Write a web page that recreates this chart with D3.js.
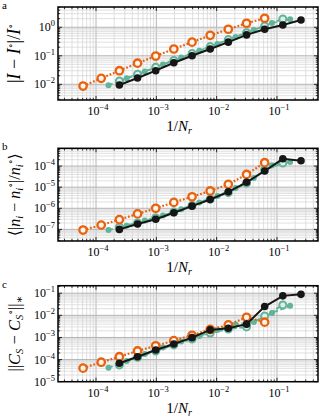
<!DOCTYPE html>
<html>
<head>
<meta charset="utf-8">
<script src="https://cdn.jsdelivr.net/npm/d3@7"></script>
<style>
body { margin: 0; background: #fff; }
svg { display: block; }
</style>
</head>
<body>
<svg id="fig"></svg>
<script>
// 1/N_r positions
const xOrange = [6.10e-5, 1.22e-4, 2.44e-4, 4.88e-4, 9.77e-4, 1.95e-3, 3.91e-3, 7.81e-3, 1.56e-2, 3.13e-2, 6.25e-2];
const xBlack  = [2.44e-4, 4.88e-4, 9.77e-4, 1.95e-3, 3.91e-3, 7.81e-3, 1.56e-2, 3.13e-2, 6.25e-2, 0.125, 0.25];
const xTealA  = [2.44e-4, 4.88e-4, 9.77e-4, 1.95e-3, 3.91e-3, 7.81e-3, 1.56e-2, 3.13e-2, 6.25e-2, 0.125];
const xTealB  = [1.61e-4, 3.22e-4, 6.45e-4, 1.29e-3, 2.58e-3, 5.16e-3, 1.03e-2, 2.06e-2, 4.13e-2, 8.25e-2, 0.165];

// panel a : |I - I°|/I°
const aOrange = [0.0087, 0.0162, 0.030, 0.055, 0.098, 0.173, 0.30, 0.52, 0.85, 1.38, 2.07];
const aBlack  = [0.0095, 0.0166, 0.030, 0.057, 0.10, 0.173, 0.30, 0.54, 0.85, 1.2, 1.8];
const aTealA  = [0.0131, 0.0225, 0.0396, 0.069, 0.12, 0.21, 0.37, 0.64, 1.11, 1.95];
const aTealB  = [0.0093, 0.0162, 0.028, 0.049, 0.087, 0.15, 0.26, 0.46, 0.80, 1.4, 1.9];

// panel b : <|n_i - n_i°|/n_i°>
const bOrange = [9.3e-8, 1.6e-7, 2.9e-7, 5.4e-7, 1.0e-6, 1.9e-6, 3.5e-6, 6.6e-6, 1.36e-5, 4.0e-5, 1.44e-4];
const bBlack  = [1.0e-7, 1.8e-7, 3.0e-7, 6.1e-7, 1.26e-6, 2.6e-6, 6.0e-6, 1.7e-5, 5.8e-5, 2.2e-4, 1.78e-4];
const bTealA  = [1.29e-7, 2.0e-7, 3.5e-7, 6.6e-7, 1.35e-6, 2.7e-6, 5.5e-6, 1.55e-5, 6.5e-5, 1.39e-4];
const bTealB  = [9.3e-8, 1.5e-7, 2.6e-7, 4.5e-7, 9.1e-7, 1.86e-6, 3.8e-6, 9.1e-6, 2.7e-5, 1.1e-4, 1.55e-4];

// panel c : ||C_S - C_S°||_*
const cOrange = [4.1e-5, 7.6e-5, 1.35e-4, 2.45e-4, 4.2e-4, 7.2e-4, 1.26e-3, 2.3e-3, 3.7e-3, 8.2e-3, 4.9e-3];
const cBlack  = [6.8e-5, 1.35e-4, 2.7e-4, 5.1e-4, 9.8e-4, 2.2e-3, 2.6e-3, 4.0e-3, 2.5e-2, 7.6e-2, 8.9e-2];
const cBlackErr = [1, 1, 1, 1, 1, 1.25, 1.4, 1.5, 1.35, 1.1, 1];
const cTealA  = [5.7e-5, 1.26e-4, 2.45e-4, 4.6e-4, 8.5e-4, 1.6e-3, 2.4e-3, 3.0e-3, 9.3e-3, 2.95e-2];
const cTealB  = [4.3e-5, 8.7e-5, 1.8e-4, 3.5e-4, 6.6e-4, 1.17e-3, 2.2e-3, 3.9e-3, 5.0e-3, 1.29e-2, 2.7e-2];

const xTickExps = [-4, -3, -2, -1];
const aTickExps = [0, -1, -2];
const bTickExps = [-4, -5, -6, -7];
const cTickExps = [-1, -2, -3, -4, -5];

const W = 322, H = 417;
const orange = "#e8620f", teal = "#62b39a", black = "#161616";
const font = "Liberation Serif, DejaVu Serif, serif";

const svg = d3.select("#fig").attr("width", W).attr("height", H);

const left = 58, right = 318;
const xScale = d3.scaleLog().domain([Math.pow(10, -4.63), Math.pow(10, -0.32)]).range([left, right]);

const panels = [
  {letter: "a", top: 7, bottom: 100, dom: [-2.55, 0.71], ticks: aTickExps, fs: 18,
   orange: aOrange, black: aBlack, tealA: aTealA, tealB: aTealB, err: null, ylab: "a"},
  {letter: "b", top: 148.3, bottom: 241, dom: [-7.55, -3.16], ticks: bTickExps, fs: 16,
   orange: bOrange, black: bBlack, tealA: bTealA, tealB: bTealB, err: null, ylab: "b"},
  {letter: "c", top: 285.7, bottom: 381.7, dom: [-5, -0.66], ticks: cTickExps, fs: 16.5,
   orange: cOrange, black: cBlack, tealA: cTealA, tealB: cTealB, err: cBlackErr, ylab: "c"}
];

function pow10Label(sel, e) {
  sel.append("tspan").text("10");
  sel.append("tspan").attr("dy", -5).attr("font-size", 8.5).text(e < 0 ? "\u2212" + (-e) : String(e));
}

function minorVals(lo, hi) {
  const out = [];
  for (let k = Math.floor(lo); k <= Math.ceil(hi); k++) {
    for (let m = 1; m <= 9; m++) {
      const v = m * Math.pow(10, k);
      const l = Math.log10(v);
      if (l >= lo && l <= hi) out.push({v: v, major: m === 1});
    }
  }
  return out;
}

panels.forEach(p => {
  const g = svg.append("g");
  const yScale = d3.scaleLog().domain([Math.pow(10, p.dom[0]), Math.pow(10, p.dom[1])]).range([p.bottom, p.top]);
  const xd = xScale.domain().map(Math.log10);

  const xs = minorVals(xd[0], xd[1]);
  const ys = minorVals(p.dom[0], p.dom[1]);

  // grid
  const grid = g.append("g");
  grid.selectAll(".gx").data(xs).join("line")
    .attr("x1", d => xScale(d.v)).attr("x2", d => xScale(d.v))
    .attr("y1", p.top).attr("y2", p.bottom)
    .attr("stroke", d => d.major ? "#b4b4b4" : "#d2d2d2")
    .attr("stroke-width", d => d.major ? 1 : 0.7);
  grid.selectAll(".gy").data(ys).join("line")
    .attr("y1", d => yScale(d.v)).attr("y2", d => yScale(d.v))
    .attr("x1", left).attr("x2", right)
    .attr("stroke", d => d.major ? "#b4b4b4" : "#d2d2d2")
    .attr("stroke-width", d => d.major ? 1 : 0.7);

  // ticks (inward, all sides)
  const tk = g.append("g").attr("stroke", "#000");
  xs.forEach(d => {
    const len = d.major ? 4 : 2.2;
    const x = xScale(d.v);
    tk.append("line").attr("x1", x).attr("x2", x).attr("y1", p.bottom).attr("y2", p.bottom - len).attr("stroke-width", 0.8);
    tk.append("line").attr("x1", x).attr("x2", x).attr("y1", p.top).attr("y2", p.top + len).attr("stroke-width", 0.8);
  });
  ys.forEach(d => {
    const len = d.major ? 4 : 2.2;
    const y = yScale(d.v);
    tk.append("line").attr("y1", y).attr("y2", y).attr("x1", left).attr("x2", left + len).attr("stroke-width", 0.8);
    tk.append("line").attr("y1", y).attr("y2", y).attr("x1", right).attr("x2", right - len).attr("stroke-width", 0.8);
  });

  // series
  const plot = g.append("g");
  const line = (xv, yv) => d3.line().x((d, i) => xScale(xv[i])).y(d => yScale(d))(yv);

  // teal (two overlapping sets)
  plot.append("path").attr("d", line(xTealB, p.tealB)).attr("fill", "none")
    .attr("stroke", teal).attr("stroke-width", 2).attr("stroke-dasharray", "4.5,2.5");
  plot.append("path").attr("d", line(xTealA, p.tealA)).attr("fill", "none")
    .attr("stroke", teal).attr("stroke-width", 2).attr("stroke-dasharray", "4.5,2.5");
  plot.selectAll(".tb").data(p.tealB).join("circle")
    .attr("cx", (d, i) => xScale(xTealB[i])).attr("cy", d => yScale(d))
    .attr("r", 3).attr("fill", teal);
  plot.selectAll(".ta").data(p.tealA).join("circle")
    .attr("cx", (d, i) => xScale(xTealA[i])).attr("cy", d => yScale(d))
    .attr("r", 3.5).attr("fill", "#dff0e9").attr("stroke", teal).attr("stroke-width", 2);

  // orange
  plot.append("path").attr("d", line(xOrange, p.orange)).attr("fill", "none")
    .attr("stroke", orange).attr("stroke-width", 2.2).attr("stroke-dasharray", "1.8,1.8");
  plot.selectAll(".or").data(p.orange).join("circle")
    .attr("cx", (d, i) => xScale(xOrange[i])).attr("cy", d => yScale(d))
    .attr("r", 3.7).attr("fill", "#fff3ea").attr("stroke", orange).attr("stroke-width", 2.3);

  // black
  plot.append("path").attr("d", line(xBlack, p.black)).attr("fill", "none")
    .attr("stroke", black).attr("stroke-width", 2);
  if (p.err) {
    plot.selectAll(".er").data(p.black).join("line")
      .attr("x1", (d, i) => xScale(xBlack[i])).attr("x2", (d, i) => xScale(xBlack[i]))
      .attr("y1", (d, i) => yScale(d * p.err[i])).attr("y2", (d, i) => yScale(d / p.err[i]))
      .attr("stroke", black).attr("stroke-width", 1.5);
  }
  plot.selectAll(".bk").data(p.black).join("circle")
    .attr("cx", (d, i) => xScale(xBlack[i])).attr("cy", d => yScale(d))
    .attr("r", 3.8).attr("fill", black);

  // frame
  g.append("rect").attr("x", left).attr("y", p.top)
    .attr("width", right - left).attr("height", p.bottom - p.top)
    .attr("fill", "none").attr("stroke", "#000").attr("stroke-width", 1.5);

  // tick labels
  xTickExps.forEach(e => {
    const t = g.append("text").attr("x", xScale(Math.pow(10, e)) + 2).attr("y", p.bottom + 15)
      .attr("text-anchor", "middle").attr("font-family", font).attr("font-size", 12);
    pow10Label(t, e);
  });
  p.ticks.forEach(e => {
    const t = g.append("text").attr("x", left - 3).attr("y", yScale(Math.pow(10, e)) + 4)
      .attr("text-anchor", "end").attr("font-family", font).attr("font-size", 12);
    pow10Label(t, e);
  });

  // x title
  const xt = g.append("text").attr("x", 179).attr("y", p.bottom + 31)
    .attr("text-anchor", "middle").attr("font-family", font).attr("font-size", 15);
  xt.append("tspan").text("1/");
  xt.append("tspan").attr("font-style", "italic").text("N");
  xt.append("tspan").attr("font-style", "italic").attr("font-size", 10).attr("dy", 3).text("r");

  // panel letter
  g.append("text").attr("x", 2).attr("y", p.top + 2).attr("font-family", font).attr("font-size", 11).text(p.letter);

  // y title
  const cy = (p.top + p.bottom) / 2;
  const yt = g.append("text").attr("transform", `translate(20,${cy}) rotate(-90)`)
    .attr("text-anchor", "middle").attr("font-family", font).attr("font-size", p.fs);
  const it = s => yt.append("tspan").attr("font-style", "italic").text(s);
  const rm = s => yt.append("tspan").text(s);
  const sup = (s, dy) => yt.append("tspan").attr("font-size", 10).attr("dy", dy).text(s);
  const sub = (s, dy) => yt.append("tspan").attr("font-size", 10.5).attr("font-style", "italic").attr("dy", dy).text(s);
  if (p.ylab === "a") {
    rm("|"); it("I"); rm(" \u2212 "); it("I"); sup("\u2218", -6); yt.append("tspan").attr("dy", 6).text("|/");
    it("I"); sup("\u2218", -6);
  } else if (p.ylab === "b") {
    rm("\u27E8|"); it("n"); sub("i", 3); yt.append("tspan").attr("dy", -3).text(" \u2212 ");
    it("n"); sub("i", 3); sup("\u2218", -9); yt.append("tspan").attr("dy", 6).text("|/");
    it("n"); sub("i", 3); sup("\u2218", -9); yt.append("tspan").attr("dy", 6).text("\u27E9");
  } else {
    rm("||"); it("C"); sub("S", 3); yt.append("tspan").attr("dy", -3).text(" \u2212 ");
    it("C"); sub("S", 3); sup("\u2218", -9); yt.append("tspan").attr("dy", 6).text("||");
    yt.append("tspan").attr("font-size", 11).attr("dy", 3).text("\u2217");
  }
});
</script>
</body>
</html>
